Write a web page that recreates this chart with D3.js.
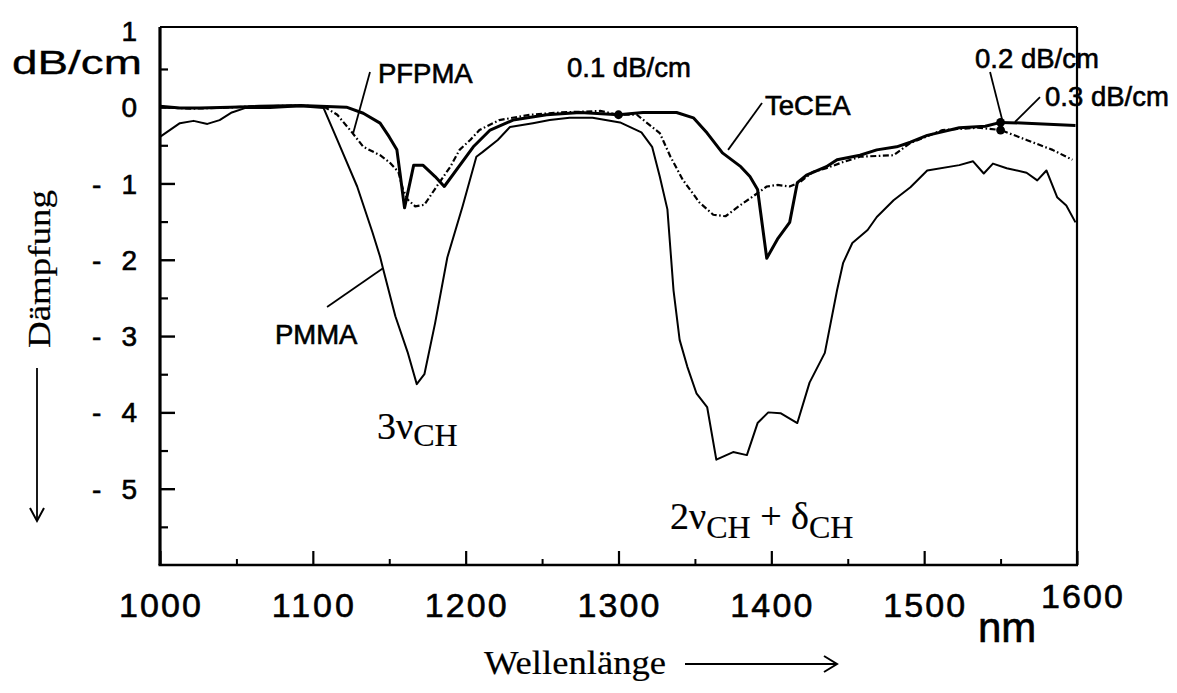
<!DOCTYPE html>
<html>
<head>
<meta charset="utf-8">
<script src="https://cdn.jsdelivr.net/npm/d3@7"></script>
<style>
  body { margin: 0; background: #fff; }
  text { fill: #000; }
  .sans { font-family: "Liberation Sans", Arial, sans-serif; stroke: #000; stroke-width: 0.6px; }
  .serif { font-family: "Liberation Serif", "Times New Roman", serif; stroke: #000; stroke-width: 0.2px; }
</style>
</head>
<body>
<svg id="chart" width="1177" height="693"></svg>
<script>
// Attenuation spectra (dB/cm) of three polymers versus wavelength (nm)
const pmmaWavelength = [1000,1013,1022,1031,1039,1047,1056,1072,1092,1107,1116,1129,1139,1144,1146,1154,1162,1168,1173,1180,1188,1198,1207,1211,1221,1229,1244,1255,1268,1283,1301,1315,1322,1327,1332,1336,1340,1345,1351,1358,1364,1375,1384,1391,1398,1406,1417,1425,1435,1443,1447,1453,1463,1469,1480,1491,1502,1523,1532,1539,1545,1554,1567,1574,1580,1587,1593,1599];
const pmmaLoss = [-0.39,-0.21,-0.18,-0.22,-0.17,-0.07,-0.01,-0.01,0.01,-0.01,-0.43,-1.04,-1.64,-1.96,-2.12,-2.74,-3.21,-3.63,-3.50,-2.83,-1.97,-1.30,-0.65,-0.59,-0.43,-0.26,-0.21,-0.17,-0.14,-0.14,-0.20,-0.33,-0.52,-0.91,-1.34,-2.40,-3.05,-3.40,-3.75,-3.93,-4.62,-4.52,-4.56,-4.14,-4.00,-4.01,-4.14,-3.61,-3.22,-2.40,-2.04,-1.78,-1.61,-1.44,-1.22,-1.05,-0.83,-0.76,-0.71,-0.87,-0.74,-0.80,-0.86,-0.96,-0.83,-1.18,-1.29,-1.51];

const tecaWavelength = [1000,1013,1026,1046,1065,1092,1122,1133,1144,1150,1155,1157,1160,1166,1172,1180,1186,1205,1216,1231,1253,1275,1300,1316,1338,1349,1358,1368,1380,1386,1391,1393,1397,1404,1412,1417,1423,1436,1443,1458,1469,1482,1491,1502,1523,1540,1550,1567,1599];
const tecaLoss = [0.01,-0.01,-0.01,0.00,0.01,0.02,0.00,-0.08,-0.21,-0.39,-0.56,-0.86,-1.32,-0.76,-0.76,-0.91,-1.04,-0.52,-0.30,-0.17,-0.10,-0.07,-0.10,-0.07,-0.07,-0.14,-0.34,-0.60,-0.78,-0.91,-1.08,-1.38,-1.98,-1.73,-1.51,-0.99,-0.89,-0.78,-0.69,-0.63,-0.56,-0.52,-0.46,-0.37,-0.27,-0.25,-0.20,-0.21,-0.24];

const pfpmaWavelength = [1000,1020,1040,1060,1090,1107,1116,1126,1133,1144,1150,1156,1159,1162,1167,1173,1181,1190,1196,1203,1209,1222,1242,1262,1288,1300,1312,1327,1334,1342,1353,1362,1370,1380,1388,1397,1404,1412,1419,1427,1436,1447,1458,1480,1491,1512,1535,1550,1567,1584,1597];
const pfpmaLoss = [0.00,-0.02,-0.01,0.01,0.02,0.01,-0.10,-0.34,-0.52,-0.63,-0.72,-0.85,-1.08,-1.21,-1.30,-1.28,-1.04,-0.78,-0.56,-0.43,-0.30,-0.17,-0.10,-0.07,-0.05,-0.10,-0.10,-0.34,-0.65,-0.95,-1.25,-1.41,-1.43,-1.28,-1.17,-1.04,-1.02,-1.04,-0.98,-0.85,-0.80,-0.72,-0.65,-0.63,-0.47,-0.30,-0.27,-0.30,-0.43,-0.56,-0.69];

// Marked loss values
const markerWavelength = [1300, 1550, 1550];
const markerLoss = [-0.1, -0.2, -0.3];
const markerText = ["0.1 dB/cm", "0.2 dB/cm", "0.3 dB/cm"];

// Axis ticks
const xMajorTicks = [1000, 1100, 1200, 1300, 1400, 1500, 1600];
const xMinorTicks = [1050, 1150, 1250, 1350, 1450, 1550];
const yTickLabels = [1, 0, -1, -2, -3, -4, -5];
const yMajorTicks = [0, -1, -2, -3, -4, -5];
const yMinorTicks = [0.5, -0.5, -1.5, -2.5, -3.5, -4.5, -5.5];

const plot = { left: 160, right: 1077, top: 27, bottom: 565 };

const svg = d3.select("#chart");
const x = d3.scaleLinear().domain([1000, 1600]).range([plot.left, plot.right]);
const y = d3.scaleLinear().domain([-6, 1.05]).range([plot.bottom, plot.top]);

// Frame
svg.append("line").attr("x1", plot.left).attr("x2", plot.right).attr("y1", plot.top).attr("y2", plot.top)
  .attr("stroke", "#000").attr("stroke-width", 1.8);
svg.append("line").attr("x1", plot.right).attr("x2", plot.right).attr("y1", plot.top).attr("y2", plot.bottom)
  .attr("stroke", "#000").attr("stroke-width", 2.2);

// Tick marks (pointing inward)
function tickAxis(gen, transform, values, size, width) {
  const g = svg.append("g").attr("transform", transform)
    .call(gen.tickValues(values).tickSize(size).tickSizeOuter(0).tickFormat(""));
  g.select(".domain").remove();
  g.selectAll(".tick line").attr("stroke", "#000").attr("stroke-width", width);
  return g;
}
tickAxis(d3.axisRight(y), `translate(${plot.left},0)`, yMajorTicks, 15, 2.4);
tickAxis(d3.axisRight(y), `translate(${plot.left},0)`, yMinorTicks, 8, 2.2);
tickAxis(d3.axisTop(x), `translate(0,${plot.bottom})`, xMajorTicks, 14, 2.2);
tickAxis(d3.axisTop(x), `translate(0,${plot.bottom})`, xMinorTicks, 6, 2);

// Axis lines
svg.append("line").attr("x1", plot.left).attr("x2", plot.left).attr("y1", plot.top).attr("y2", plot.bottom)
  .attr("stroke", "#000").attr("stroke-width", 3.2);
svg.append("line").attr("x1", plot.left - 1.5).attr("x2", plot.right + 1).attr("y1", plot.bottom).attr("y2", plot.bottom)
  .attr("stroke", "#000").attr("stroke-width", 2.6);

// Y tick labels
svg.append("g").selectAll("text").data(yTickLabels).join("text")
  .attr("class", "sans")
  .attr("x", 137).attr("y", d => y(d)).attr("dy", "0.36em")
  .attr("text-anchor", "end").attr("font-size", 28)
  .attr("textLength", d => d < 0 ? 45 : null)
  .attr("lengthAdjust", "spacing")
  .text(d => d < 0 ? "- " + Math.abs(d) : String(d));

svg.append("text").attr("class", "sans")
  .attr("x", 12).attr("y", 74).attr("font-size", 34)
  .style("stroke-width", "0.3px")
  .attr("textLength", 130).attr("lengthAdjust", "spacingAndGlyphs")
  .text("dB/cm");

// X tick labels (the last one sits raised, next to the unit)
svg.append("g").selectAll("text").data(xMajorTicks).join("text")
  .attr("class", "sans")
  .attr("x", (d, i) => x(d) + (i === xMajorTicks.length - 1 ? 5 : 0))
  .attr("y", (d, i) => i === xMajorTicks.length - 1 ? 608 : 617)
  .attr("text-anchor", "middle").attr("font-size", 34)
  .attr("textLength", 82).attr("lengthAdjust", "spacing")
  .text(d => d);

svg.append("text").attr("class", "sans")
  .attr("x", 978).attr("y", 642).attr("font-size", 42)
  .text("nm");

// Axis titles with arrows
svg.append("text").attr("class", "serif")
  .attr("transform", "translate(50,348) rotate(-90)")
  .attr("font-size", 31)
  .attr("textLength", 158).attr("lengthAdjust", "spacingAndGlyphs")
  .text("Dämpfung");
svg.append("line").attr("x1", 37).attr("x2", 37).attr("y1", 368).attr("y2", 520)
  .attr("stroke", "#000").attr("stroke-width", 1.8);
svg.append("path").attr("d", "M30,508 L37,521 L44,508")
  .attr("fill", "none").attr("stroke", "#000").attr("stroke-width", 2);

svg.append("text").attr("class", "serif")
  .attr("x", 484).attr("y", 674).attr("font-size", 34)
  .attr("textLength", 182).attr("lengthAdjust", "spacingAndGlyphs")
  .text("Wellenlänge");
svg.append("line").attr("x1", 685).attr("x2", 836).attr("y1", 664).attr("y2", 664)
  .attr("stroke", "#000").attr("stroke-width", 1.8);
svg.append("path").attr("d", "M824,656 L837,664 L824,672")
  .attr("fill", "none").attr("stroke", "#000").attr("stroke-width", 2);

// Curves
const line = d3.line().x(d => x(d[0])).y(d => y(d[1])).curve(d3.curveLinear);
const series = [
  { w: pmmaWavelength, v: pmmaLoss, width: 2, dash: null },
  { w: pfpmaWavelength, v: pfpmaLoss, width: 2.2, dash: "6,2.5,1.6,2.5" },
  { w: tecaWavelength, v: tecaLoss, width: 3, dash: null }
];
series.forEach(s => {
  svg.append("path")
    .datum(d3.zip(s.w, s.v))
    .attr("d", line)
    .attr("fill", "none").attr("stroke", "#000")
    .attr("stroke-width", s.width)
    .attr("stroke-linejoin", "round")
    .attr("stroke-dasharray", s.dash);
});

// Marked values
svg.append("g").selectAll("circle").data(d3.zip(markerWavelength, markerLoss)).join("circle")
  .attr("cx", d => x(d[0])).attr("cy", d => y(d[1])).attr("r", 4.4).attr("fill", "#000");

// Annotations: text anchor (nm, dB/cm) and leader line endpoints
const labelFont = 27.5;
const annotations = [
  { text: "PFPMA", at: [1142.6, 0.316], leader: [[1137.4, 0.46], [1126.3, -0.35]] },
  { text: markerText[0], at: [1266.3, 0.394], leader: null },
  { text: "TeCEA", at: [1395.9, -0.10], leader: [[1393.9, 0.054], [1371.7, -0.56]] },
  { text: markerText[1], at: [1533.3, 0.512], leader: [[1543.1, 0.46], [1551.6, -0.21]] },
  { text: markerText[2], at: [1579.1, 0.014], leader: [[1575.8, 0.13], [1559.4, -0.195]] },
  { text: "PMMA", at: [1075.2, -3.10], leader: [[1145.9, -2.11], [1109.3, -2.62]] }
];
annotations.forEach(a => {
  svg.append("text").attr("class", "sans")
    .attr("x", x(a.at[0])).attr("y", y(a.at[1]))
    .attr("font-size", labelFont)
    .text(a.text);
  if (a.leader) {
    svg.append("line")
      .attr("x1", x(a.leader[0][0])).attr("y1", y(a.leader[0][1]))
      .attr("x2", x(a.leader[1][0])).attr("y2", y(a.leader[1][1]))
      .attr("stroke", "#000").attr("stroke-width", 1.8);
  }
});

// Band assignments
function bandLabel(parts, pos) {
  const t = svg.append("text").attr("class", "serif")
    .attr("x", x(pos[0])).attr("y", y(pos[1]));
  parts.forEach(p => {
    t.append("tspan")
      .attr("font-size", p.sub ? 32 : 38)
      .attr("dy", p.dy || 0)
      .text(p.t);
  });
}
bandLabel([{ t: "3\u03BD" }, { t: "CH", sub: true, dy: 7 }], [1142, -4.35]);
bandLabel([
  { t: "2\u03BD" }, { t: "CH", sub: true, dy: 9 },
  { t: " + \u03B4", dy: -9 }, { t: "CH", sub: true, dy: 9 }
], [1333.7, -5.53]);
</script>
</body>
</html>
